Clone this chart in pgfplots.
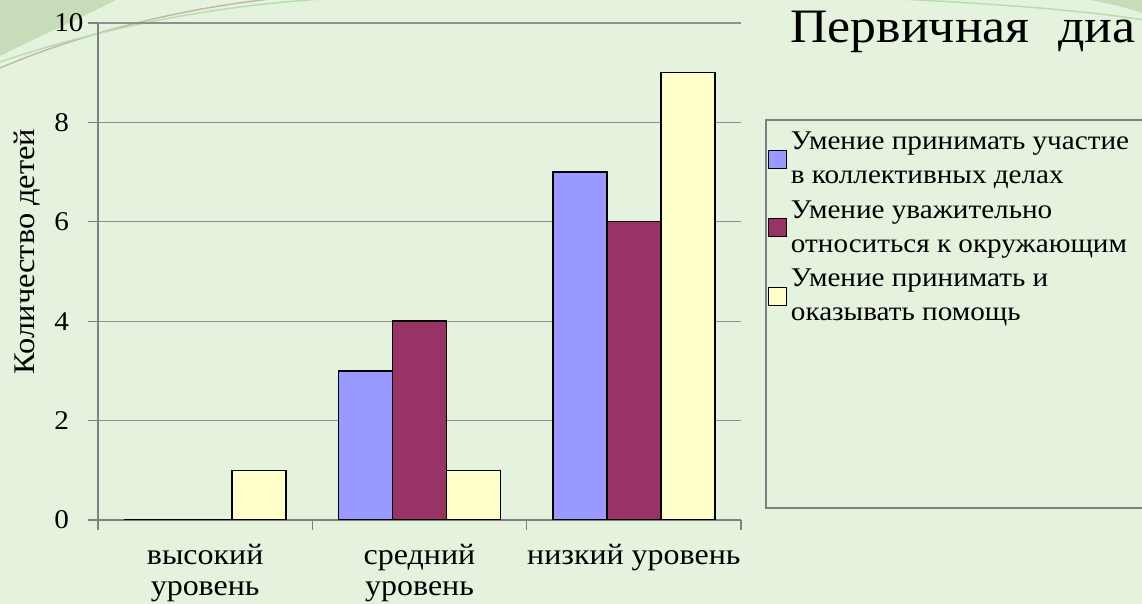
\documentclass[border=0pt]{standalone}
\usepackage{fontspec}
\setmainfont{Liberation Serif}[FakeStretch=1.08]
\usepackage{pgfplots}
\pgfplotsset{compat=1.18}
\definecolor{bg}{RGB}{228,242,222}
\definecolor{deco}{RGB}{200,220,186}
\definecolor{decobrown}{RGB}{196,180,170}
\definecolor{decogreen}{RGB}{180,222,170}
\definecolor{axgray}{RGB}{128,128,128}
\definecolor{grgray}{RGB}{140,145,140}
\definecolor{sA}{RGB}{153,153,255}
\definecolor{sB}{RGB}{153,51,102}
\definecolor{sC}{RGB}{255,255,204}
\begin{document}
\begin{tikzpicture}
\useasboundingbox (0,0) rectangle (571pt,302pt);
\fill[bg] (0,0) rectangle (571pt,302pt);
\begin{scope}
\clip (0,0) rectangle (571pt,302pt);
\fill[deco] (0,302pt) -- (58pt,302pt) .. controls (38pt,292pt) and (18pt,283pt) .. (0,274pt) -- cycle;
\draw[decobrown, line width=0.7pt] (0,268pt) .. controls (40pt,285pt) and (90pt,298pt) .. (140pt,303pt);
\draw[decogreen, line width=0.7pt] (0,271pt) .. controls (50pt,288pt) and (110pt,300pt) .. (170pt,303pt);
\draw[decogreen, line width=0.7pt] (440pt,303pt) .. controls (500pt,300pt) and (540pt,297pt) .. (572pt,292pt);
\fill[deco] (572pt,302pt) -- (545pt,302pt) .. controls (555pt,300pt) and (565pt,298pt) .. (572pt,295pt) -- cycle;
\end{scope}
\node[anchor=base west, inner sep=0pt, font=\fontsize{24}{28}\selectfont] at (395pt,280.5pt) {Первичная\hspace{0.6em}диа};
\begin{axis}[
  at={(49pt,42pt)}, anchor=south west,
  scale only axis, width=321.5pt, height=248.5pt,
  xmin=-0.5, xmax=2.5, ymin=0, ymax=10,
  ybar=0pt, bar width=27pt,
  axis x line*=bottom, axis y line*=left,
  axis line style={draw=axgray, line width=0.6pt, -},
  ytick={0,2,4,6,8,10},
  ymajorgrids, grid style={draw=grgray, line width=0.6pt},
  xtick={-0.5,0.5,1.5,2.5}, xticklabels={,,,},
  extra x ticks={0,1,2},
  extra x tick labels={{высокий\\уровень},{средний\\уровень},{низкий уровень}},
  extra x tick style={major tick length=0pt, grid=none},
  tick align=outside, major tick length=5pt,
  tick style={draw=axgray, line width=0.6pt},
  /pgf/number format/assume math mode=true,
  ticklabel style={font=\fontsize{13.5}{16}\selectfont},
  yticklabel style={anchor=west, inner sep=0pt, xshift=-17pt},
  xticklabel style={align=center, font=\fontsize{14.8}{15.5}\selectfont, yshift=-8.5pt},
  ylabel={Количество детей},
  every axis y label/.style={at={(rel axis cs:0,0.5)}, anchor=center, rotate=90, xshift=10pt, yshift=35.5pt, font=\fontsize{15}{17}\selectfont},
  legend style={draw=none, fill=none, at={(rel axis cs:1.041,0.79)}, anchor=north west,
    font=\fontsize{13.5}{17}\selectfont, cells={anchor=west, align=left}, row sep=3pt, inner sep=0pt},
  legend image code/.code={\draw[#1,draw=black,line width=0.6pt] (0pt,-4.5pt) rectangle (9pt,4.5pt);},
]
\addplot[fill=sA, draw=black, line width=0.7pt] coordinates {(0,0) (1,3) (2,7)};
\addplot[fill=sB, draw=black, line width=0.7pt] coordinates {(0,0) (1,4) (2,6)};
\addplot[fill=sC, draw=black, line width=0.7pt] coordinates {(0,1) (1,1) (2,9)};
\addlegendentry{Умение принимать участие\\в коллективных делах}
\addlegendentry{Умение уважительно\\относиться к окружающим}
\addlegendentry{Умение принимать и\\оказывать помощь}
\end{axis}
\begin{scope}
\clip (0,0) rectangle (571pt,302pt);
\draw[axgray, line width=0.6pt] (383pt,242pt) rectangle (580pt,48pt);
\end{scope}
\end{tikzpicture}
\end{document}
